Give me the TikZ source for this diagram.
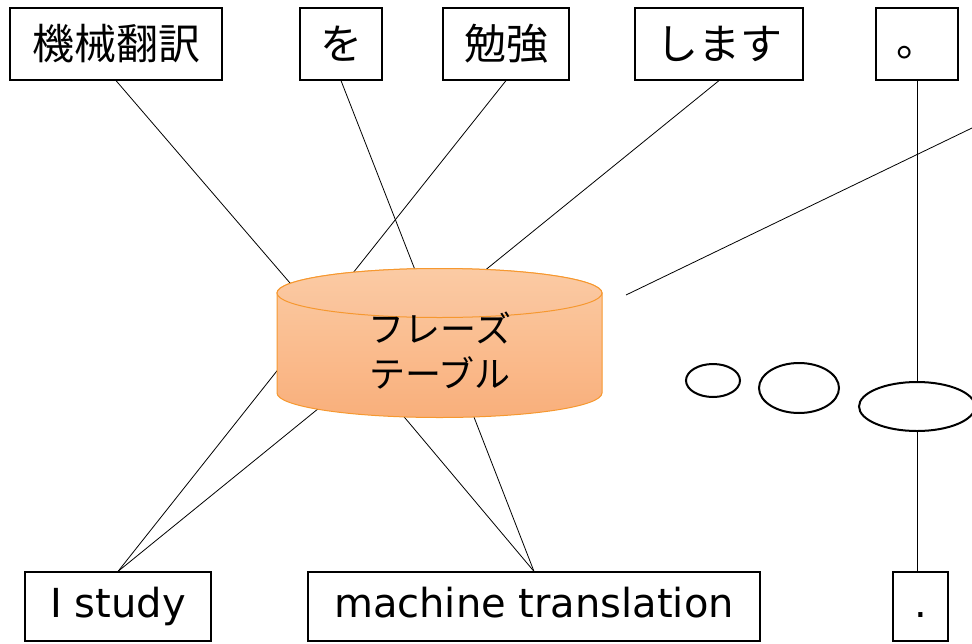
\documentclass[tikz,border=0pt]{standalone}
\usepackage{fontspec}
\setmainfont{DejaVu Sans}
\newfontfamily\jp{Noto Sans CJK JP}
\usetikzlibrary{shapes.geometric}
\definecolor{cylTop}{HTML}{FBCBA4}
\definecolor{cylBot}{HTML}{F9AF7B}
\definecolor{cylMid}{HTML}{FAC198}
\definecolor{cylLine}{HTML}{F6982F}
\tikzset{
  jpbox/.style={draw=black, line width=1.2pt, inner sep=0pt, minimum height=72pt, font=\jp\fontsize{42}{48}\selectfont},
  enbox/.style={draw=black, line width=1.2pt, inner sep=0pt, minimum height=69pt, text height=30pt, text depth=9pt, font=\fontsize{40}{46}\selectfont},
  link/.style={draw=black, line width=0.8pt},
  bubble/.style={draw=black, ellipse, line width=2pt, inner sep=0pt}
}
\begin{document}
\begin{tikzpicture}[x=1pt,y=1pt]
\useasboundingbox (0,0) rectangle (972,-643);
% top boxes
\node[jpbox, minimum width=212pt] (t1) at (116,-44) {機械翻訳};
\node[jpbox, minimum width=82pt] (t2) at (341,-44) {を};
\node[jpbox, minimum width=126pt] (t3) at (506,-44) {勉強};
\node[jpbox, minimum width=168pt] (t4) at (719,-44) {します};
\node[jpbox, minimum width=82pt, text height=35pt, text depth=3pt] (t5) at (917,-44) {\raisebox{4pt}{。}};
% bottom boxes
\node[enbox, minimum width=186pt] (b1) at (118,-606.5) {I study};
\node[enbox, minimum width=452pt] (b2) at (534,-606.5) {machine translation};
\node[enbox, minimum width=55pt] (b3) at (920.5,-606.5) {.};
% ellipses
\node[bubble, minimum width=54pt, minimum height=33pt] (e1) at (713,-380.5) {};
\node[bubble, minimum width=80pt, minimum height=50pt] (e2) at (799,-388) {};
\node[bubble, minimum width=116pt, minimum height=49pt] (e3) at (917,-406.5) {};
% connector end points at the table
\coordinate (c1) at (296,-290);
\coordinate (c2) at (417,-275);
\coordinate (c3) at (349,-278);
\coordinate (c4) at (478,-276);
\coordinate (d1) at (284,-362);
\coordinate (d2) at (324,-404);
\coordinate (d3) at (400,-412);
\coordinate (d4) at (472,-412);
\coordinate (r1) at (972,-128);
\coordinate (r2) at (626,-295);
% connectors
\draw[link] (t1.south) -- (c1);
\draw[link] (t2.south) -- (c2);
\draw[link] (t3.south) -- (c3);
\draw[link] (t4.south) -- (c4);
\draw[link] (b1.north) -- (d1);
\draw[link] (b1.north) -- (d2);
\draw[link] (b2.north) -- (d3);
\draw[link] (b2.north) -- (d4);
\draw[link] (r1) -- (r2);
\draw[link] (t5.south) -- (t5.south |- e3.north);
\draw[link] (e3.south -| t5.south) -- (b3.north -| t5.south);
% phrase table cylinder
\shade[top color=cylTop, bottom color=cylBot, draw=cylLine, line width=1pt]
  (277,-293) -- (277,-393) arc[start angle=180, end angle=360, x radius=162.5, y radius=24.5]
  -- (602,-293) arc[start angle=0, end angle=180, x radius=162.5, y radius=24.5] -- cycle;
\shade[top color=cylTop, bottom color=cylMid, draw=cylLine, line width=1pt]
  (439.5,-293) ellipse[x radius=162.5, y radius=24.5];
\node[align=center, inner sep=0pt, font=\jp\fontsize{36}{45}\selectfont] (tab) at (440,-351) {フレーズ\\テーブル};
\end{tikzpicture}
\end{document}
